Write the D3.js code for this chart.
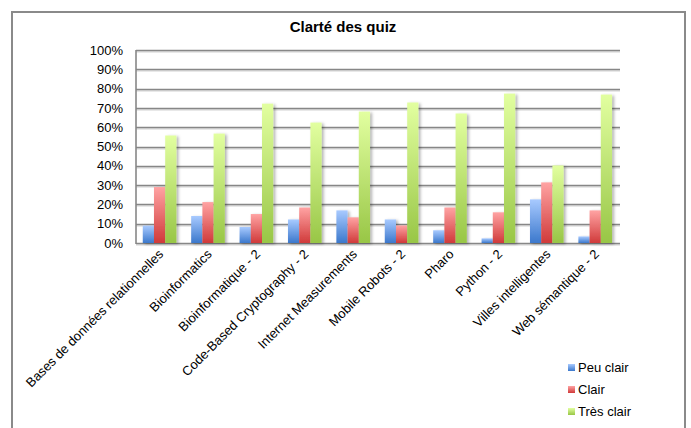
<!DOCTYPE html>
<html>
  <head>
    <script src="https://cdn.jsdelivr.net/npm/d3@7"></script>
    <style>
      body { margin: 0; background: #fff; }
      text { font-family: "Liberation Sans", Arial, sans-serif; fill: #000; }
    </style>
  </head>
  <body>
    <svg id="chart" width="691" height="428"></svg>
    <script>
    var categories = ["Bases de données relationnelles", "Bioinformatics", "Bioinformatique - 2",
      "Code-Based Cryptography - 2", "Internet Measurements", "Mobile Robots - 2", "Pharo",
      "Python - 2", "Villes intelligentes", "Web sémantique - 2"];
    var seriesNames = ["Peu clair", "Clair", "Très clair"];
    var peuClair = [0.09, 0.14, 0.083, 0.122, 0.169, 0.122, 0.066, 0.024, 0.226, 0.034];
    var clair = [0.29, 0.212, 0.15, 0.184, 0.133, 0.091, 0.184, 0.159, 0.314, 0.169];
    var tresClair = [0.557, 0.567, 0.722, 0.624, 0.681, 0.728, 0.671, 0.774, 0.402, 0.769];
    var yTicks = [0, 0.1, 0.2, 0.3, 0.4, 0.5, 0.6, 0.7, 0.8, 0.9, 1];

    var gradients = [["#a8caff", "#3b78cc"], ["#ffa3a3", "#d03a3a"], ["#e2ffa0", "#98c646"]];

    var svg = d3.select("#chart");
    svg.append("rect").attr("width", 691).attr("height", 428).attr("fill", "#fff");

    var defs = svg.append("defs");
    gradients.forEach(function(g, i){
      var lg = defs.append("linearGradient").attr("id", "grad" + i)
        .attr("x1", 0).attr("y1", 0).attr("x2", 0).attr("y2", 1);
      lg.append("stop").attr("offset", "0%").attr("stop-color", g[0]);
      lg.append("stop").attr("offset", "100%").attr("stop-color", g[1]);
    });
    defs.append("filter").attr("id", "shadow").attr("x", "-30%").attr("y", "-10%")
      .attr("width", "180%").attr("height", "130%")
      .append("feDropShadow").attr("dx", 2).attr("dy", 1).attr("stdDeviation", 1.6)
      .attr("flood-color", "#000").attr("flood-opacity", 0.3);

    // outer frame
    svg.append("rect").attr("x", 12).attr("y", 12).attr("width", 673).attr("height", 440)
      .attr("fill", "none").attr("stroke", "#8a8a8a").attr("stroke-width", 2);

    svg.append("text").attr("x", 343).attr("y", 32).attr("text-anchor", "middle")
      .style("font-size", "15px").style("font-weight", "bold").text("Clarté des quiz");

    var plotLeft = 136, plotRight = 620, plotTop = 50, plotBottom = 243;
    var x0 = d3.scaleBand().domain(categories).range([plotLeft, plotRight]);
    var x1 = d3.scaleBand().domain(seriesNames)
      .range([x0.bandwidth() * 0.14, x0.bandwidth() * 0.835]);
    var y = d3.scaleLinear().domain([0, 1]).range([plotBottom, plotTop]);

    // gridlines, with a faint line underneath as a soft shadow
    var grid = svg.append("g");
    grid.selectAll("line.shade").data(yTicks).enter().append("line")
      .attr("class", "shade")
      .attr("x1", plotLeft).attr("x2", plotRight)
      .attr("y1", function(d){ return Math.round(y(d)) + 1.8; })
      .attr("y2", function(d){ return Math.round(y(d)) + 1.8; })
      .attr("stroke", "#000").attr("stroke-opacity", 0.12).attr("stroke-width", 2);
    grid.selectAll("line.main").data(yTicks).enter().append("line")
      .attr("class", "main")
      .attr("x1", plotLeft).attr("x2", plotRight)
      .attr("y1", function(d){ return Math.round(y(d)) + 0.5; })
      .attr("y2", function(d){ return Math.round(y(d)) + 0.5; })
      .attr("stroke", "#878787").attr("stroke-width", 1.6);

    svg.append("line").attr("x1", plotLeft).attr("x2", plotLeft)
      .attr("y1", plotTop).attr("y2", plotBottom + 1)
      .attr("stroke", "#878787").attr("stroke-width", 1.6);

    // y axis labels
    var yAxis = d3.axisLeft(y).tickValues(yTicks).tickFormat(d3.format(".0%")).tickSize(0).tickPadding(13);
    var ya = svg.append("g").attr("transform", "translate(" + plotLeft + ",0)").call(yAxis);
    ya.select(".domain").remove();
    ya.selectAll("text").style("font-size", "13px").style("font-family", "Liberation Sans, Arial, sans-serif")
      .attr("fill", "#000");

    var series = [peuClair, clair, tresClair];
    var groups = svg.append("g").selectAll("g").data(categories).enter().append("g")
      .attr("transform", function(d){ return "translate(" + x0(d) + ",0)"; });
    groups.selectAll("rect").data(function(d, i){
      return series.map(function(s, j){ return { key: seriesNames[j], idx: j, value: s[i] }; });
    }).enter().append("rect")
      .attr("x", function(d){ return x1(d.key); })
      .attr("width", x1.bandwidth())
      .attr("y", function(d){ return y(d.value); })
      .attr("height", function(d){ return plotBottom - y(d.value); })
      .attr("fill", function(d){ return "url(#grad" + d.idx + ")"; })
      .attr("filter", "url(#shadow)");

    // x labels
    svg.append("g").selectAll("text").data(categories).enter().append("text")
      .attr("text-anchor", "end")
      .attr("transform", function(d){
        return "translate(" + (x0(d) + x0.bandwidth() / 2 + 4) + "," + (plotBottom + 12) + ") rotate(-45)";
      })
      .style("font-size", "13px")
      .text(function(d){ return d; });

    // legend
    var legend = svg.append("g").selectAll("g").data(seriesNames).enter().append("g")
      .attr("transform", function(d, i){ return "translate(568," + (364 + i * 22) + ")"; });
    legend.append("rect").attr("width", 7).attr("height", 7)
      .attr("fill", function(d, i){ return "url(#grad" + i + ")"; });
    legend.append("text").attr("x", 10).attr("y", 8).style("font-size", "13px")
      .text(function(d){ return d; });
    </script>
  </body>
</html>
